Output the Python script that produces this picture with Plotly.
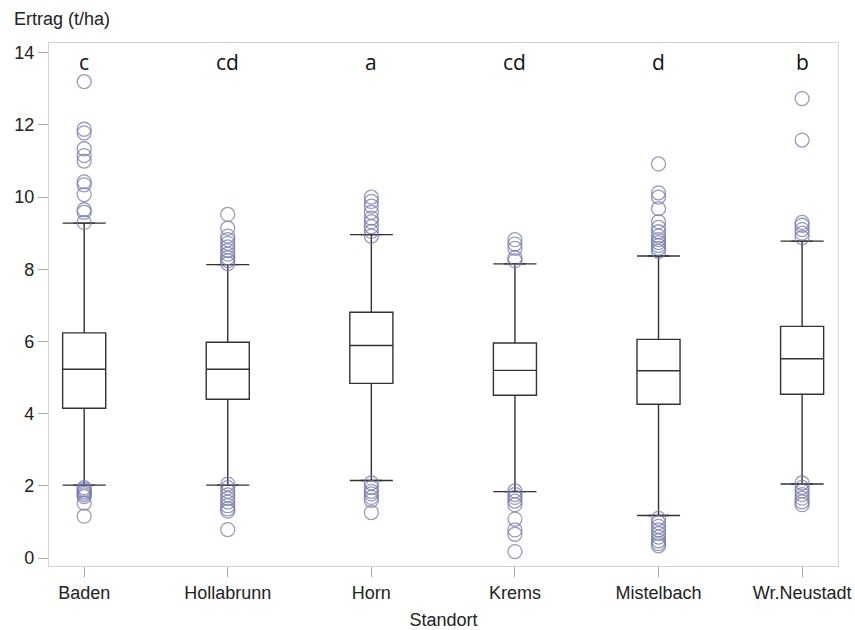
import plotly.graph_objects as go

categories = ["Baden", "Hollabrunn", "Horn", "Krems", "Mistelbach", "Wr.Neustadt"]
letters = ["c", "cd", "a", "cd", "d", "b"]

q1 = [4.15, 4.40, 4.84, 4.51, 4.26, 4.54]
median = [5.23, 5.23, 5.89, 5.20, 5.19, 5.52]
q3 = [6.24, 5.98, 6.81, 5.96, 6.06, 6.42]
lowerfence = [2.02, 2.02, 2.15, 1.84, 1.18, 2.05]
upperfence = [9.28, 8.13, 8.96, 8.15, 8.37, 8.78]

outliers = {
    "Baden": [13.2, 11.88, 11.78, 11.34, 11.15, 11.0, 10.42, 10.34, 10.07, 9.65, 9.58, 9.30,
              1.95, 1.90, 1.85, 1.80, 1.75, 1.70, 1.52, 1.16],
    "Hollabrunn": [9.52, 9.14, 8.92, 8.82, 8.72, 8.62, 8.52, 8.42, 8.32, 8.24, 8.16,
                   2.05, 1.95, 1.85, 1.75, 1.65, 1.55, 1.45, 1.36, 1.30, 0.79],
    "Horn": [10.0, 9.88, 9.75, 9.58, 9.42, 9.32, 9.18, 9.05, 8.92,
             2.08, 1.95, 1.85, 1.78, 1.68, 1.60, 1.26],
    "Krems": [8.82, 8.70, 8.58, 8.32, 8.24,
              1.86, 1.76, 1.68, 1.58, 1.48, 1.08, 0.78, 0.66, 0.18],
    "Mistelbach": [10.92, 10.12, 10.0, 9.68, 9.32, 9.16, 9.04, 8.92, 8.82, 8.74, 8.66, 8.58, 8.50,
                   1.10, 0.98, 0.88, 0.78, 0.68, 0.58, 0.48, 0.40, 0.34],
    "Wr.Neustadt": [12.73, 11.58, 9.30, 9.22, 9.10, 9.00, 8.88,
                    2.08, 1.96, 1.86, 1.76, 1.66, 1.56, 1.48],
}

ytick_vals = [0, 2, 4, 6, 8, 10, 12, 14]

BOX_W = 0.3
xs = list(range(len(categories)))
line_col = "#333333"
txt_col = "#222222"
font_fam = "Liberation Sans"

fig = go.Figure()

fig.add_trace(go.Box(
    x=xs, q1=q1, median=median, q3=q3,
    lowerfence=lowerfence, upperfence=upperfence,
    width=BOX_W, fillcolor="white",
    line=dict(color=line_col, width=1.4),
    boxpoints=False, showlegend=False, hoverinfo="skip",
))

# whisker caps
cx, cy = [], []
for i in xs:
    for v in (lowerfence[i], upperfence[i]):
        cx += [i - BOX_W / 2, i + BOX_W / 2, None]
        cy += [v, v, None]
fig.add_trace(go.Scatter(x=cx, y=cy, mode="lines",
                         line=dict(color=line_col, width=1.4),
                         showlegend=False, hoverinfo="skip"))

# outliers
ox, oy = [], []
for i, c in enumerate(categories):
    for v in outliers[c]:
        ox.append(i)
        oy.append(v)
fig.add_trace(go.Scatter(
    x=ox, y=oy, mode="markers",
    marker=dict(symbol="circle-open", size=14,
                color="rgba(115,122,170,0.75)", line=dict(width=1.3)),
    showlegend=False, hoverinfo="skip"))

for i, t in enumerate(letters):
    fig.add_annotation(x=i, y=13.75, text=t, showarrow=False,
                       font=dict(family="Open Sans", size=21, color="#111111"),
                       xref="x", yref="y")

fig.add_annotation(x=0, y=1, xref="paper", yref="paper",
                   xshift=-37, yshift=24, xanchor="left", yanchor="middle",
                   text="Ertrag (t/ha)", showarrow=False,
                   font=dict(family=font_fam, size=18, color=txt_col))

axis_common = dict(showgrid=False, zeroline=False, showline=True, mirror=True,
                   linecolor="#d3d3d3", linewidth=1.2, automargin=False,
                   ticks="outside", ticklen=10, tickcolor="#aaaaaa", tickwidth=1,
                   tickfont=dict(family=font_fam, size=18, color=txt_col))

fig.update_xaxes(**axis_common, tickmode="array", tickvals=xs, ticktext=categories,
                 range=[-0.245, 5.25],
                 title=dict(text="Standort", standoff=13,
                            font=dict(family=font_fam, size=18, color=txt_col)))
fig.update_yaxes(**axis_common, tickmode="array", tickvals=ytick_vals,
                 range=[-0.22, 14.27])

fig.update_layout(width=855, height=630,
                  margin=dict(l=49, r=17, t=43, b=64),
                  paper_bgcolor="white", plot_bgcolor="white")

fig.write_html("out.html", config={"displayModeBar": False},
               post_script="document.body.style.margin='0px';")
